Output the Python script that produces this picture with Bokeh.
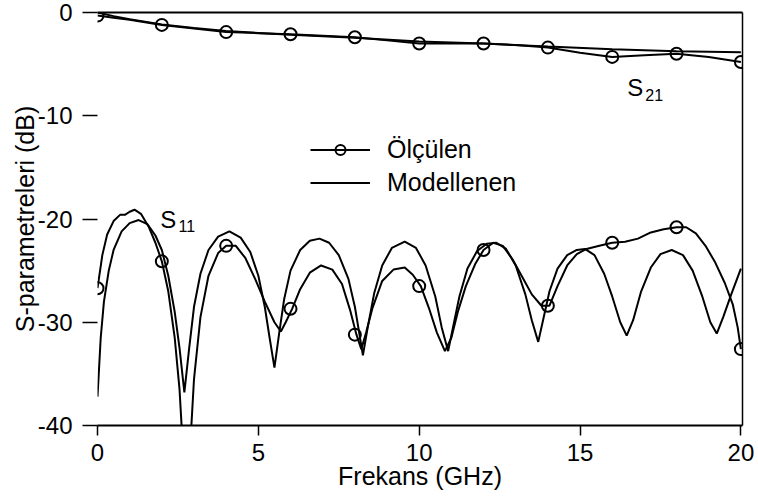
from bokeh.plotting import figure
from bokeh.models import Range1d, LinearAxis, FixedTicker, Legend, LegendItem, Label
from bokeh.embed import file_html
from bokeh.resources import INLINE

# ---------------- data ----------------
x_ticks = [0, 5, 10, 15, 20]
y_ticks = [0, -10, -20, -30, -40]
y_tick_labels = ["0", "-10", "-20", "-30", "-40"]

# S21 - measured (line) and its circle markers
s21_meas_f = [0.0, 0.5, 1.0, 2.0, 3.0, 4.0, 5.0, 6.0, 7.0, 8.0, 9.0, 10.0, 11.0, 12.0, 13.0,
              14.0, 15.0, 16.0, 17.0, 18.0, 19.0, 20.0]
s21_meas_db = [-0.3, -0.5, -0.7, -1.2, -1.55, -1.9, -2.0, -2.1, -2.25, -2.4, -2.7, -3.0, -3.0, -3.0, -3.15,
               -3.4, -3.9, -4.3, -4.15, -4.0, -4.3, -4.8]
s21_mark_f = [0, 2, 4, 6, 8, 10, 12, 14, 16, 18, 20]
s21_mark_db = [-0.3, -1.2, -1.9, -2.1, -2.4, -3.0, -3.0, -3.4, -4.3, -4.0, -4.8]

# S21 - model
s21_model_f = [0.0, 0.5, 1.0, 2.0, 3.0, 4.0, 6.0, 8.0, 10.0, 12.0, 14.0, 16.0, 18.0, 20.0]
s21_model_db = [0.0, -0.35, -0.65, -1.15, -1.5, -1.8, -2.15, -2.45, -2.8, -3.0, -3.3, -3.55, -3.75, -3.85]

# S11 - measured (line) and its circle markers
s11_meas_f = [0.0, 0.15, 0.3, 0.5, 0.7, 0.85, 1.0, 1.15, 1.35, 1.6, 1.8, 2.0, 2.2, 2.4, 2.55, 2.65,
              2.8, 2.9, 3.0, 3.2, 3.45, 3.75, 4.0, 4.3, 4.6, 4.9, 5.2, 5.5, 5.7, 5.85, 6.05, 6.3,
              6.6, 6.95, 7.3, 7.6, 7.85, 8.05, 8.2, 8.35, 8.55, 8.85, 9.2, 9.55, 9.8, 10.05,
              10.3, 10.55, 10.8, 11.0, 11.2, 11.45, 11.75, 12.0, 12.3, 12.6, 12.9, 13.2, 13.5,
              13.8, 14.05, 14.3, 14.6, 14.9, 15.2, 15.6, 16.0, 16.4, 16.8, 17.2, 17.6, 18.0,
              18.3, 18.6, 18.9, 19.2, 19.5, 19.75, 19.9, 20.0]
s11_meas_db = [-26.7, -23.5, -21.5, -20.2, -19.6, -19.6, -19.3, -19.1, -19.5, -20.8, -22.3, -24.1,
               -27.0, -31.5, -36.5, -42.0, -45.0, -41.0, -35.5, -29.5, -25.5, -23.3, -22.6, -22.6,
               -23.8, -25.8, -28.0, -30.0, -30.9, -30.0, -28.7, -26.8, -25.2, -24.5, -24.9, -26.3,
               -28.8, -31.2, -32.6, -31.0, -28.6, -26.0, -24.9, -24.7, -25.4, -26.5, -28.6, -31.0,
               -32.8, -31.5, -29.0, -26.5, -24.3, -23.0, -22.3, -22.6, -23.9, -25.6, -27.3, -28.4,
               -28.4, -26.5, -24.5, -23.4, -22.9, -22.6, -22.3, -22.2, -21.9, -21.3, -21.0, -20.8,
               -20.8, -21.4, -22.6, -24.2, -26.2, -28.3, -30.5, -32.6]
s11_mark_f = [0, 2, 4, 6, 8, 10, 12, 14, 16, 18, 20]
s11_mark_db = [-26.7, -24.1, -22.6, -28.7, -31.2, -26.5, -23.0, -28.4, -22.3, -20.8, -32.6]

# S11 - model
s11_model_f = [0.0, 0.1, 0.2, 0.35, 0.5, 0.75, 1.0, 1.28, 1.55, 1.8, 2.0, 2.2, 2.4, 2.55, 2.7,
               2.85, 3.0, 3.2, 3.45, 3.75, 4.1, 4.45, 4.75, 5.0, 5.2, 5.35, 5.5, 5.65, 5.8, 6.0,
               6.3, 6.6, 6.9, 7.2, 7.5, 7.8, 8.0, 8.15, 8.25, 8.4, 8.6, 8.85, 9.15, 9.55, 9.9,
               10.2, 10.5, 10.7, 10.9, 11.05, 11.25, 11.5, 11.8, 12.1, 12.4, 12.7, 13.0, 13.3,
               13.5, 13.7, 13.85, 14.05, 14.3, 14.6, 14.9, 15.15, 15.45, 15.75, 16.0, 16.25,
               16.45, 16.65, 16.9, 17.2, 17.5, 17.85, 18.2, 18.5, 18.8, 19.05, 19.25, 19.45,
               19.7, 20.0]
s11_model_db = [-37.2, -31.5, -28.0, -25.0, -23.0, -21.2, -20.4, -20.1, -20.5, -21.6, -23.0, -25.5,
                -29.0, -32.5, -36.8, -32.5, -28.5, -25.3, -23.0, -21.7, -21.2, -21.8, -23.2, -25.5,
                -28.5, -31.5, -34.4, -31.0, -27.8, -25.0, -23.0, -22.1, -21.9, -22.3, -23.5, -25.8,
                -28.5, -31.3, -33.2, -30.5, -27.2, -24.5, -22.8, -22.2, -22.8, -24.5, -27.5, -30.5,
                -32.8, -30.5, -27.5, -24.8, -23.1, -22.4, -22.3, -22.9, -24.5, -27.3, -29.8, -31.9,
                -29.8, -27.0, -24.8, -23.5, -23.0, -22.9, -23.5, -25.3, -27.5, -30.0, -31.3, -29.8,
                -27.0, -24.7, -23.4, -23.0, -23.5, -25.0, -27.5, -30.0, -31.1, -29.5, -27.3, -24.8]

legend_labels = ["Ölçülen", "Modellenen"]
x_title = "Frekans (GHz)"
y_title = "S-parametreleri (dB)"

# ---------------- figure ----------------
FONT = "Liberation Sans"

p = figure(width=758, height=497, output_backend="svg", toolbar_location=None,
           x_range=Range1d(0, 20.05), y_range=Range1d(-40, 0),
           min_border_left=97, min_border_right=16, min_border_top=12, min_border_bottom=72,
           background_fill_color="white", border_fill_color="white")
p.outline_line_color = None
p.xgrid.visible = False
p.ygrid.visible = False

xa = p.xaxis[0]
xa.ticker = FixedTicker(ticks=x_ticks)
xa.axis_line_width = 2
xa.axis_line_color = "black"
xa.major_tick_in = 0
xa.major_tick_out = 10
xa.major_tick_line_width = 1.5
xa.minor_tick_line_color = None
xa.major_label_text_font = FONT
xa.major_label_text_font_size = "24px"
xa.major_label_text_color = "black"
xa.major_label_standoff = 8
xa.axis_label = x_title
xa.axis_label_text_font = FONT
xa.axis_label_text_font_size = "25px"
xa.axis_label_text_font_style = "normal"
xa.axis_label_text_color = "black"
xa.axis_label_standoff = -2

ya = p.yaxis[0]
ya.ticker = FixedTicker(ticks=y_ticks)
ya.major_label_overrides = {t: s for t, s in zip(y_ticks, y_tick_labels)}
ya.axis_line_color = None
ya.major_tick_in = 0
ya.major_tick_out = 15
ya.major_tick_line_width = 1.5
ya.minor_tick_line_color = None
ya.major_label_text_font = FONT
ya.major_label_text_font_size = "24px"
ya.major_label_text_color = "black"
ya.major_label_standoff = 10
ya.axis_label = y_title
ya.axis_label_text_font = FONT
ya.axis_label_text_font_size = "25px"
ya.axis_label_text_font_style = "normal"
ya.axis_label_text_color = "black"
ya.axis_label_standoff = -4

top_axis = LinearAxis(ticker=FixedTicker(ticks=[]), axis_line_width=2, axis_line_color="black",
                      major_tick_line_color=None, minor_tick_line_color=None,
                      major_label_text_font_size="0px")
right_axis = LinearAxis(ticker=FixedTicker(ticks=[]), axis_line_width=1.5, axis_line_color="black",
                        major_tick_line_color=None, minor_tick_line_color=None,
                        major_label_text_font_size="0px")
p.add_layout(top_axis, "above")
p.add_layout(right_axis, "right")

LW = 2
r_s21_model = p.line(s21_model_f, s21_model_db, line_color="black", line_width=LW)
r_s21_meas = p.line(s21_meas_f, s21_meas_db, line_color="black", line_width=LW)
r_s21_mark = p.scatter(s21_mark_f, s21_mark_db, marker="circle", size=12, fill_color=None,
                       line_color="black", line_width=2)

r_s11_model = p.line(s11_model_f, s11_model_db, line_color="black", line_width=LW)
r_s11_meas = p.line(s11_meas_f, s11_meas_db, line_color="black", line_width=LW)
r_s11_mark = p.scatter(s11_mark_f, s11_mark_db, marker="circle", size=12, fill_color=None,
                       line_color="black", line_width=2)

legend = Legend(items=[LegendItem(label=legend_labels[0], renderers=[r_s21_meas, r_s21_mark]),
                       LegendItem(label=legend_labels[1], renderers=[r_s21_model])],
                location=(213, 228), orientation="vertical",
                glyph_width=60, glyph_height=25, label_height=25, label_standoff=17,
                spacing=4, padding=0, margin=0,
                border_line_color=None, background_fill_alpha=0,
                label_text_font=FONT, label_text_font_size="25px", label_text_color="black")
p.add_layout(legend, "center")

for (tx, ty, txt, fs) in [(16.47, -7.3, "S", "24px"), (17.03, -8.0, "21", "16px"),
                          (1.95, -20.0, "S", "24px"), (2.52, -20.7, "11", "16px")]:
    p.add_layout(Label(x=tx, y=ty, text=txt, text_font=FONT, text_font_size=fs,
                       text_baseline="middle", text_align="left", text_color="black"))

open("out.html", "w").write(file_html(p, INLINE))
